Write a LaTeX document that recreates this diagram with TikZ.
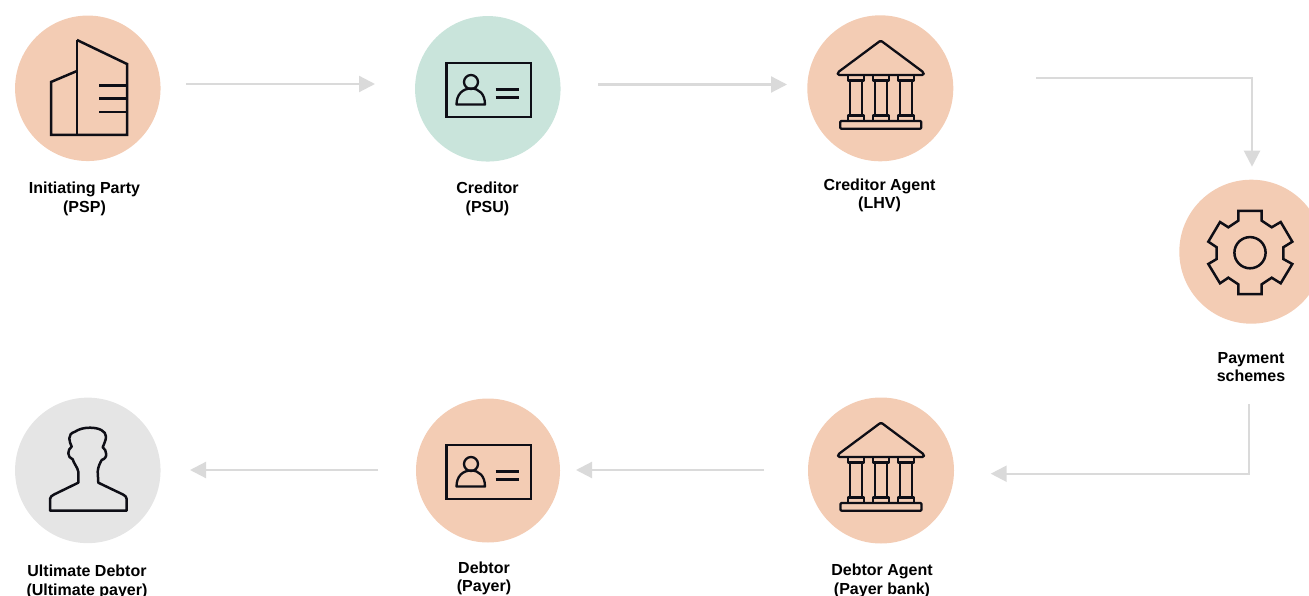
\documentclass[tikz,border=0pt]{standalone}
\usepackage{fontspec}
\setmainfont{Liberation Sans}
\usetikzlibrary{arrows.meta}
\definecolor{peach}{HTML}{F3CCB4}
\definecolor{mint}{HTML}{C9E4DB}
\definecolor{lgray}{HTML}{E5E5E5}
\definecolor{arrowgray}{HTML}{DADADA}
\definecolor{ink}{HTML}{0E0E16}
\tikzset{
  disc/.style={circle,draw=none,inner sep=0pt,minimum size=#1},
  lab/.style={align=center,font=\fontsize{16}{18.4}\selectfont\bfseries,text=black,inner sep=0pt},
  flow/.style={draw=arrowgray,line width=2.2pt,-{Triangle[length=16pt,width=16pt,fill=arrowgray]}},
  icon/.style={draw=ink,line width=2.5pt,line join=miter},
  thinicon/.style={draw=ink,line width=2.3pt,line join=round},
  pics/card/.style={code={
    \draw[thinicon,line join=miter] (-41.5,-26) rectangle (43,28);
    \draw[thinicon] (-17,-7) circle (7);
    \draw[thinicon] (-31.5,15.5) .. controls (-31.5,5) and (-25,-0.5) .. (-17,-0.5) .. controls (-9,-0.5) and (-3,5) .. (-3,15.5) -- cycle;
    \draw[thinicon,line cap=butt] (7.5,0.5) -- (30.5,0.5) (7.5,8.5) -- (30.5,8.5);
  }},
  pics/bank/.style={code={
    \draw[thinicon,rounded corners=1.5pt] (0,-48) -- (43,-16) -- (43,-13.5) -- (-43,-13.5) -- (-43,-16) -- cycle;
    \foreach \c in {-25,0,25}{
      \draw[thinicon] (\c-8,-13.5) -- (\c-8,-8) -- (\c+8,-8) -- (\c+8,-13.5);
      \draw[thinicon] (\c-6,-8) -- (\c-6,27) (\c+6,-8) -- (\c+6,27);
      \draw[thinicon] (\c-8,32.5) -- (\c-8,27) -- (\c+8,27) -- (\c+8,32.5);
    }
    \draw[thinicon,rounded corners=1pt] (-40.5,32.5) -- (40.5,32.5) -- (40.5,40.2) -- (-40.5,40.2) -- cycle;
  }}
}
\begin{document}
\begin{tikzpicture}[x=1pt,y=-1pt]
\useasboundingbox (0,0) rectangle (1309,596);
\clip (0,0) rectangle (1309,596);
% discs
\node[disc=145.5pt,fill=peach] (ip) at (87.8,88.3) {};
\node[disc=145.5pt,fill=mint] (cr) at (487.8,88.8) {};
\node[disc=146pt,fill=peach] (ca) at (880.3,88.3) {};
\node[disc=144pt,fill=peach] (ps) at (1251.3,251.7) {};
\node[disc=145.5pt,fill=lgray] (ud) at (87.8,470.4) {};
\node[disc=144pt,fill=peach] (de) at (488,470.5) {};
\node[disc=146pt,fill=peach] (da) at (881,470.5) {};
% labels
\node[lab] (lip) at (84.5,198.8) {Initiating Party\\(PSP)};
\node[lab] (lcr) at (487.5,198.8) {Creditor\\(PSU)};
\node[lab] (lca) at (879.5,195.5) {Creditor Agent\\(LHV)};
\node[lab] (lps) at (1251,367) {Payment\\schemes};
\node[lab] (lud) at (87,581.7) {Ultimate Debtor\\(Ultimate payer)};
\node[lab] (lde) at (484,578.5) {Debtor\\(Payer)};
\node[lab] (lda) at (882,581) {Debtor Agent\\(Payer bank)};
% building
\draw[icon] (77,40) -- (127,64) -- (127,135) -- (51,135) -- (51,82) -- (77,71);
\draw[icon] (77,40) -- (77,135);
\draw[icon] (99,85.5) -- (127,85.5) (99,98.5) -- (127,98.5) (99,112) -- (127,112);
% cards and banks
\pic at (488,89) {card};
\pic at (488,471) {card};
\pic at (880.7,88.5) {bank};
\pic at (881,470.5) {bank};
% gear
\draw[icon] (1238.3,211) -- (1261.7,211) -- (1261.7,220.7) -- (1271.7,227.3) -- (1280.7,222) -- (1292.3,241.7) -- (1283.3,247.3) -- (1283.3,259) -- (1292.3,264) -- (1280.7,283.3) -- (1271.7,277.7) -- (1261.7,284.3) -- (1261.7,294) -- (1238.3,294) -- (1238.3,284.3) -- (1228.3,277.7) -- (1220,283.3) -- (1208.3,264) -- (1216.7,259) -- (1216.7,247.3) -- (1208.3,241.7) -- (1220,222) -- (1228.3,227.3) -- (1238.3,220.7) -- cycle;
\draw[icon] (1250,252.7) circle (15.6);
% person
\draw[icon,line join=round] (50,510.7) -- (126.7,510.7) -- (126.7,499)
  .. controls (126.7,497) and (125,495.5) .. (123,494.5)
  -- (98.3,482.7) -- (97.7,471.7)
  .. controls (98,467) and (100,463) .. (101.7,460)
  .. controls (105,459) and (107,456) .. (106,453.3)
  .. controls (106,451) and (105,449) .. (102.7,447.3)
  .. controls (104,444) and (106,440) .. (106,436.7)
  .. controls (106,431) and (99,427.7) .. (90,427.7)
  .. controls (84,427.7) and (79,429) .. (75,431.7)
  .. controls (71,433) and (69.3,435) .. (69.3,438.3)
  .. controls (69.3,441) and (70.5,444) .. (71.7,446.7)
  .. controls (69.5,448) and (68.3,450.5) .. (68.3,453.3)
  .. controls (68.3,456) and (70,458.5) .. (72.7,459.3)
  .. controls (74,464) and (77.5,467) .. (78.3,471.7)
  -- (78.3,482.7) -- (54,494.5)
  .. controls (52,495.5) and (50,497) .. (50,499) -- cycle;
% connectors
\coordinate (a1) at (186,84); \coordinate (a2) at (375,84);
\coordinate (b1) at (598,84.5); \coordinate (b2) at (787,84.5);
\coordinate (c1) at (1036,78); \coordinate (c2) at (1252,78); \coordinate (c3) at (1252,166.7);
\coordinate (d1) at (1248.7,404.3); \coordinate (d2) at (1248.7,473.7); \coordinate (d3) at (990.7,473.7);
\coordinate (e1) at (764,470); \coordinate (e2) at (576,470);
\coordinate (f1) at (378,470); \coordinate (f2) at (190,470);
\draw[flow] (a1) -- (a2);
\draw[flow] (b1) -- (b2);
\draw[flow] (c1) -- (c2) -- (c3);
\draw[flow] (d1) -- (d2) -- (d3);
\draw[flow] (e1) -- (e2);
\draw[flow] (f1) -- (f2);
\end{tikzpicture}
\end{document}
